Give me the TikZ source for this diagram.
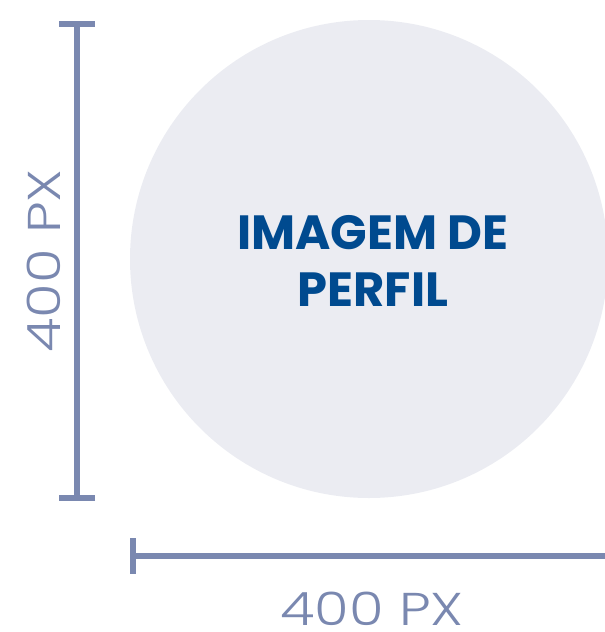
\documentclass[tikz,border=0pt]{standalone}
\usepackage{fontspec}
\setmainfont{Poppins}
\newfontfamily\lightfont[FakeStretch=1.22]{Poppins Light}
\usetikzlibrary{arrows.meta,positioning}
\definecolor{PhotoGray}{HTML}{EBECF2}
\definecolor{DimBlue}{HTML}{7A88B0}
\definecolor{TitleBlue}{HTML}{004A8F}

\begin{document}
\begin{tikzpicture}[
    x=1pt, y=-1pt,
    photo/.style={circle, fill=PhotoGray, minimum size=478pt, inner sep=0pt},
    title/.style={font=\fontsize{48}{57}\selectfont\bfseries, text=TitleBlue, align=center, inner sep=0pt},
    dimline/.style={draw=DimBlue, line width=6pt},
    capped/.style={{Bar[width=36pt, length=6pt, line width=6pt, sep=0pt]}-{Bar[width=36pt, length=6pt, line width=6pt, sep=0pt]}},
    dimlabel/.style={font=\lightfont\fontsize{46}{46}\selectfont, text=DimBlue, inner sep=0pt}
]
\clip (0,0) rectangle (605,632);

\node[photo] (pic) at (369,259) {};
\node[title] (name) at (373,261) {IMAGEM DE\\PERFIL};

% cotas
\coordinate (vtop) at (77,20.5);
\coordinate (vbot) at (77,500.5);
\coordinate (hleft) at (130,555.5);
\coordinate (hright) at (620,555.5);
\draw[dimline, capped] (vtop) -- (vbot);
\draw[dimline, {Bar[width=36pt, length=6pt, line width=6pt, sep=0pt]}-] (hleft) -- (hright);

\node[dimlabel, rotate=90] (hsize) at (44,261) {400 PX};
\node[dimlabel] (wsize) at (372,608.5) {400 PX};
\end{tikzpicture}
\end{document}
